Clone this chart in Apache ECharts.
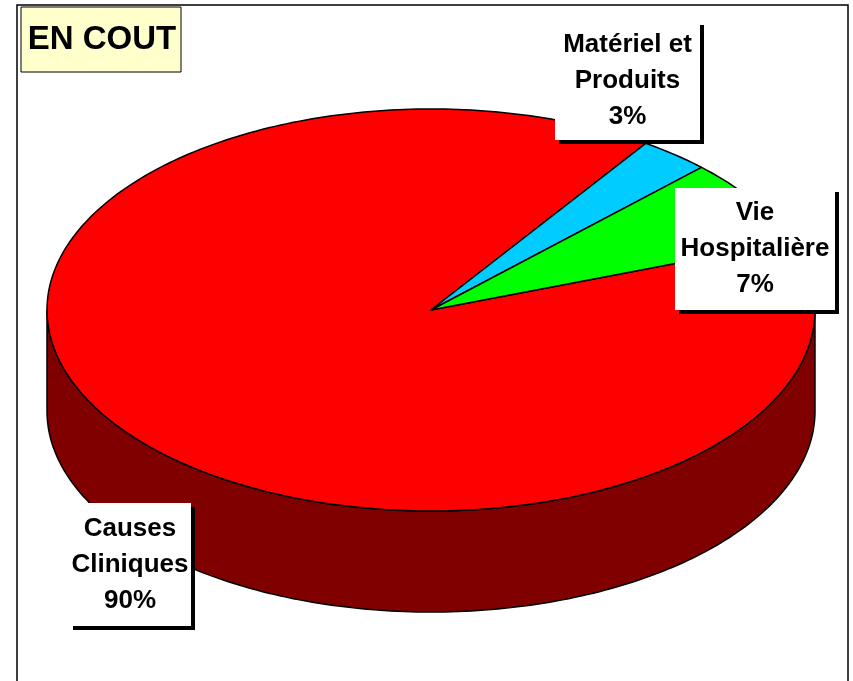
<!DOCTYPE html>
<html>
<head>
<meta charset="utf-8">
<script src="https://cdn.jsdelivr.net/npm/echarts@6/dist/echarts.min.js"></script>
<style>
  html, body { margin: 0; padding: 0; background: #fff; }
  #chart { width: 853px; height: 681px; }
</style>
</head>
<body>
<div id="chart"></div>
<script>
// données (ordre de tracé, sens horaire)
const categories = ['Causes Cliniques', 'Matériel et Produits', 'Vie Hospitalière'];
const values = [90, 3, 7];
const labelLines = [['Causes', 'Cliniques'], ['Matériel et', 'Produits'], ['Vie', 'Hospitalière']];
const topColors = ['#FF0000', '#00CCFF', '#00FF00'];
const sideColors = ['#800000', '#006680', '#008000'];

// géométrie du camembert 3D (ellipse + épaisseur)
const pie = { cx: 431, cy: 310, rx: 384, ry: 201, depth: 101, startAngle: 20 };
const boxes = [
  { x: 69, y: 503, w: 122, h: 123 },
  { x: 555, y: 21, w: 145, h: 119 },
  { x: 675, y: 188, w: 160, h: 122 }
];

const total = values.reduce((a, b) => a + b, 0);

function pt(t, dy) {
  const r = t * Math.PI / 180;
  return [pie.cx + pie.rx * Math.cos(r), pie.cy - pie.ry * Math.sin(r) + (dy || 0)];
}

function arc(a0, a1, dy) {
  // de a0 vers a1 (a0 > a1, sens horaire)
  const pts = [];
  const n = Math.max(2, Math.ceil((a0 - a1) / 1));
  for (let i = 0; i <= n; i++) pts.push(pt(a0 - (a0 - a1) * i / n, dy));
  return pts;
}

function sliceRange(i) {
  let a0 = pie.startAngle;
  for (let k = 0; k < i; k++) a0 -= values[k] / total * 360;
  return [a0, a0 - values[i] / total * 360];
}

function renderItem(params, api) {
  const i = params.dataIndex;
  const [a0, a1] = sliceRange(i);
  const children = [];
  const stroke = { stroke: '#000', lineWidth: 1.5 };

  // faces latérales visibles : angles entre 180 et 360 (modulo 360)
  for (let base = -720; base <= 720; base += 360) {
    const hi = Math.min(a0, base + 360);
    const lo = Math.max(a1, base + 180);
    if (hi > lo) {
      const top = arc(hi, lo, 0);
      const bot = arc(hi, lo, pie.depth).reverse();
      children.push({
        type: 'polygon',
        shape: { points: top.concat(bot) },
        style: Object.assign({ fill: sideColors[i] }, stroke)
      });
    }
  }

  children.push({
    type: 'polygon',
    shape: { points: [[pie.cx, pie.cy]].concat(arc(a0, a1, 0)) },
    style: Object.assign({ fill: topColors[i], lineJoin: 'round' }, stroke)
  });

  return { type: 'group', children: children };
}

const labelGraphics = [];
categories.forEach((name, i) => {
  const b = boxes[i];
  const pct = Math.round(values[i] / total * 100) + '%';
  labelGraphics.push({
    type: 'rect', z: 100,
    shape: { x: b.x + 4, y: b.y + 4, width: b.w, height: b.h },
    style: { fill: '#000' }
  });
  labelGraphics.push({
    type: 'rect', z: 101,
    shape: { x: b.x, y: b.y, width: b.w, height: b.h },
    style: { fill: '#fff' }
  });
  labelGraphics.push({
    type: 'text', z: 102,
    x: b.x + b.w / 2, y: b.y + b.h / 2,
    style: {
      text: labelLines[i].concat([pct]).join('\n'),
      fill: '#000',
      font: 'bold 26px "Liberation Sans", Arial, sans-serif',
      lineHeight: 36,
      align: 'center',
      verticalAlign: 'middle'
    }
  });
});

const chart = echarts.init(document.getElementById('chart'), null, { renderer: 'canvas' });

chart.setOption({
  backgroundColor: '#fff',
  animation: false,
  graphic: [
    {
      type: 'rect', z: 90,
      shape: { x: 17, y: 5, width: 831, height: 690 },
      style: { fill: 'none', stroke: '#000', lineWidth: 1.5 }
    },
    {
      type: 'rect', z: 90,
      shape: { x: 21, y: 7, width: 160, height: 65 },
      style: { fill: '#FFFFCC', stroke: '#000', lineWidth: 1 }
    },
    {
      type: 'text', z: 91,
      x: 102, y: 40,
      style: {
        text: 'EN COUT',
        fill: '#000',
        font: 'bold 33px "Liberation Sans", Arial, sans-serif',
        align: 'center',
        verticalAlign: 'middle'
      }
    }
  ].concat(labelGraphics),
  series: [{
    type: 'custom',
    coordinateSystem: 'none',
    renderItem: renderItem,
    data: values.map((v, i) => ({ name: categories[i], value: v }))
  }]
});
</script>
</body>
</html>
